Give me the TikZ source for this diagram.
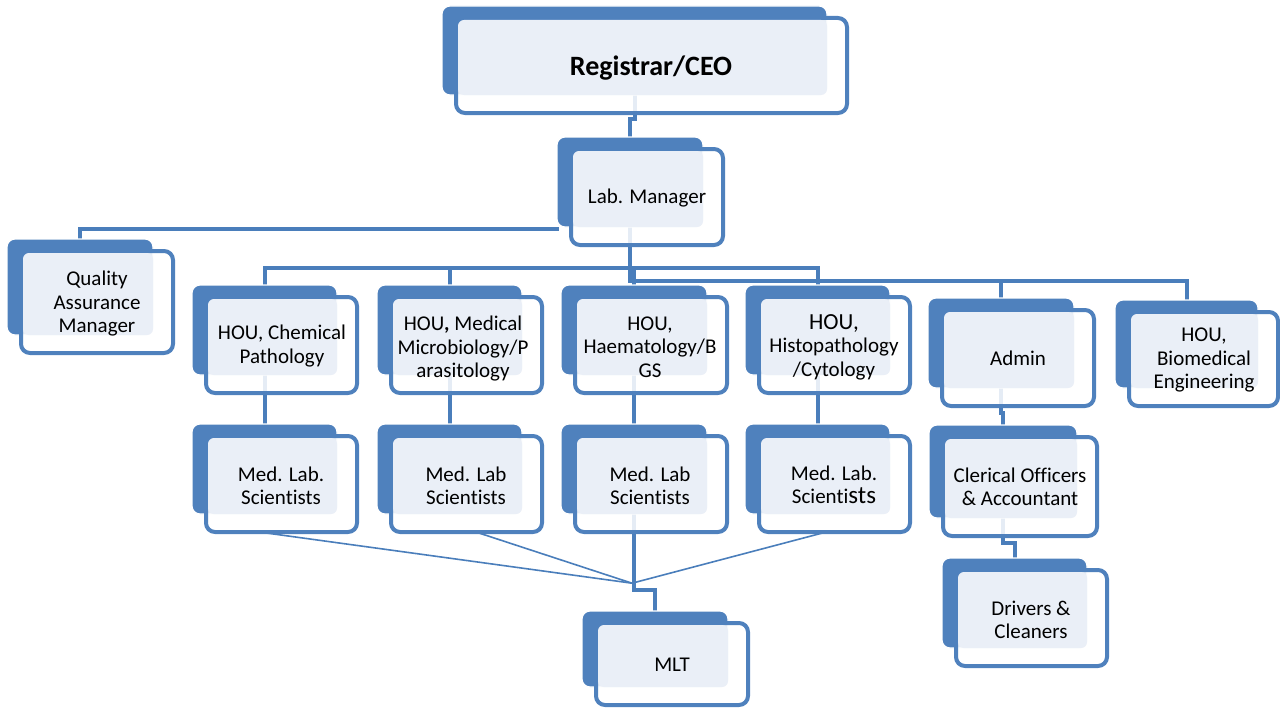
\documentclass[tikz,border=0pt]{standalone}
\usepackage{fontspec}
\setmainfont{Carlito}[Ligatures={NoCommon,NoRare}]
\usetikzlibrary{fit,calc}
\pgfdeclarelayer{background}
\pgfsetlayers{background,main}
\definecolor{boxblue}{HTML}{4F81BD}
\definecolor{linkblue}{HTML}{4A7EBB}
\definecolor{boxlight}{HTML}{EAEFF7}
\newcommand\brkti{t\kern0pt i}
\tikzset{
  backbox/.style={fill=boxblue, draw=white, line width=1.2pt, rounded corners=8pt},
  frontbox/.style={draw=boxblue, line width=4pt, fill=white, fill opacity=0.86, rounded corners=9pt},
  lightbox/.style={fill=boxlight, rounded corners=6pt},
  conn/.style={draw=linkblue, line width=4pt},
  thinconn/.style={draw=linkblue, line width=1.6pt},
  lbl/.style={align=center, inner sep=0pt, font=\fontsize{21}{23.5}\selectfont, text=black},
}
\newcommand\orgbox[5]{%
  \path[backbox] (#2,#3) rectangle (#4,#5);
  \path[frontbox] (#2+14,#3+12) rectangle (#4+20,#5+18);
  \fill[lightbox] (#2+16,#3+14) rectangle (#4,#5);
  \node[fit={(#2,#3) (#4,#5)}, inner sep=0pt] (#1) {};
}
\begin{document}
\begin{tikzpicture}[x=1pt,y=-1pt]
\useasboundingbox (0,0) rectangle (1280,709);

\orgbox{ceo}{442}{6}{827}{95}
\orgbox{lm}{557}{137}{703}{227}
\orgbox{qa}{7}{239}{153}{335}
\orgbox{chem}{192}{285}{337}{375}
\orgbox{micro}{377}{285}{522}{375}
\orgbox{haem}{561}{285}{707}{375}
\orgbox{histo}{745}{285}{890}{375}
\orgbox{admin}{928}{298}{1074}{388}
\orgbox{biomed}{1115}{300}{1258}{388}
\orgbox{ml1}{192}{424}{337}{514}
\orgbox{ml2}{377}{424}{522}{514}
\orgbox{ml3}{561}{424}{707}{514}
\orgbox{ml4}{745}{424}{890}{514}
\orgbox{cler}{929}{425}{1077}{518}
\orgbox{drv}{942}{558}{1087}{648}
\orgbox{mlt}{582}{611}{728}{687}

\node[lbl, font=\fontsize{28}{30}\selectfont\bfseries] (ceo-t) at (651,68) {Registrar/CEO};
\node[lbl] (lm-t) at (647,198) {Lab. Manager};
\node[lbl] (qa-t) at (97,304) {Quality\\Assurance\\Manager};
\node[lbl] (chem-t) at (282,346) {HOU, Chemical\\Pathology};
\node[lbl] (micro-t) at (463,349) {HOU{\bfseries ,} Medical\\Microbiology/P\\arasitology};
\node[lbl] (haem-t) at (650,347) {HOU,\\Haematology/B\\GS};
\node[lbl] (histo-t) at (834,347) {{\fontsize{23}{23.5}\selectfont HOU,}\\Histopathology\\/Cytology};
\node[lbl] (admin-t) at (1018,358) {Admin};
\node[lbl] (biomed-t) at (1204,360) {HOU,\\Biomedical\\Engineering};
\node[lbl] (ml1-t) at (281,486) {Med. Lab.\\Scien\brkti sts};
\node[lbl] (ml2-t) at (466,486) {Med. Lab\\Scien\brkti sts};
\node[lbl] (ml3-t) at (650,486) {Med. Lab\\Scien\brkti sts};
\node[lbl] (ml4-t) at (834,485) {Med. Lab.\\Scien\brkti{\fontsize{25}{25}\selectfont sts}};
\node[lbl] (cler-t) at (1020,487) {Clerical Officers\\\& Accountant};
\node[lbl] (drv-t) at (1031,620) {Drivers \&\\Cleaners};
\node[lbl] (mlt-t) at (672,665) {MLT};

\begin{pgfonlayer}{background}
\draw[conn] (ceo.south) -- ++(0,24) -| (lm.north);
\draw[conn] ($(lm.south west)+(2,2)$) -| (qa.north);
\draw[conn] (lm.south) -- ++(0,41) -| (chem.north);
\draw[conn] (lm.south) -- ++(0,41) -| (micro.north);
\draw[conn] (lm.south) -- ++(0,41) -| (haem.north);
\draw[conn] (lm.south) -- ++(0,41) -| (histo.north);
\draw[conn] (lm.south) -- ++(0,54) -| (admin.north);
\draw[conn] (lm.south) -- ++(0,54) -| (biomed.north);
\draw[conn] (chem.south) -- (ml1.north);
\draw[conn] (micro.south) -- (ml2.north);
\draw[conn] (haem.south) -- (ml3.north);
\draw[conn] (histo.south) -- (ml4.north);
\draw[conn] (admin.south) -- ++(0,25) -| (cler.north);
\draw[conn] (cler.south) -- ++(0,25) -| (drv.north);
\coordinate (conv) at ($(ml3.south)+(-2,69)$);
\draw[conn] (ml3.south) -- ++(0,76) -| (mlt.north);
\draw[thinconn] ($(ml1.south)+(-4,18)$) -- (conv);
\draw[thinconn] ($(ml2.south)+(27,18)$) -- (conv);
\draw[thinconn] ($(ml4.south)+(8,18)$) -- (conv);
\end{pgfonlayer}
\end{tikzpicture}
\end{document}
